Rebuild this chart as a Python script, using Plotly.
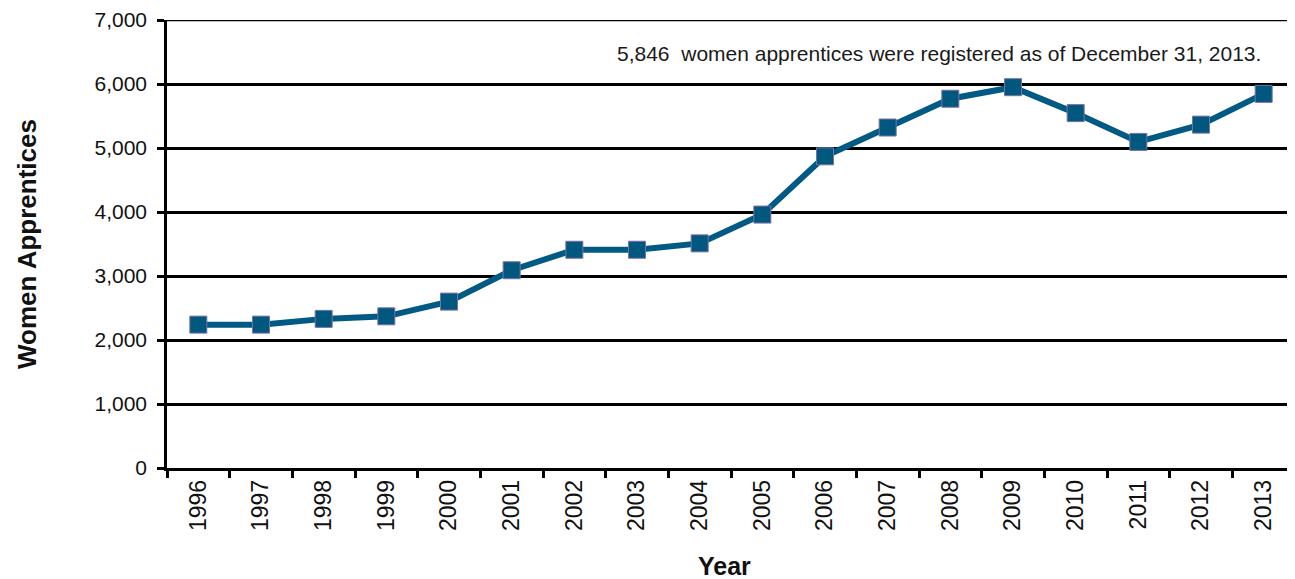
import plotly.graph_objects as go

years = [str(y) for y in range(1996, 2014)]
women = [2240, 2240, 2330, 2370, 2600, 3090, 3410, 3410, 3510, 3960,
         4870, 5320, 5770, 5950, 5545, 5095, 5365, 5846]
y_ticks = [0, 1000, 2000, 3000, 4000, 5000, 6000, 7000]
y_tick_text = ["{:,}".format(v) for v in y_ticks]
note = "5,846  women apprentices were registered as of December 31, 2013."
FONT = "Liberation Sans, Arial, sans-serif"

fig = go.Figure()
fig.add_trace(go.Scatter(
    x=years, y=women, mode="lines+markers",
    line=dict(color="#005A84", width=6),
    marker=dict(symbol="square", size=17, color="#00587F",
                line=dict(color="#7A6FA8", width=1)),
    showlegend=False, cliponaxis=False,
))

# top gridline at the range maximum
fig.add_shape(type="line", xref="paper", yref="y", x0=0, x1=1,
              y0=y_ticks[-1], y1=y_ticks[-1],
              line=dict(color="black", width=2.5), layer="below")

fig.add_annotation(
    x=1, xref="paper", xanchor="right", xshift=-32,
    y=6470, yref="y", yanchor="middle",
    text=note, showarrow=False,
    font=dict(family=FONT, size=21, color="#1a1a1a"),
)
fig.add_annotation(
    x=0.5, xref="paper", xanchor="center", xshift=-7,
    y=0, yref="paper", yanchor="middle", yshift=-98,
    text="<b>Year</b>", showarrow=False,
    font=dict(family=FONT, size=25, color="#111111"),
)
fig.add_annotation(
    x=0, xref="paper", xanchor="center", xshift=-140,
    y=0.5, yref="paper", yanchor="middle",
    text="<b>Women Apprentices</b>", showarrow=False, textangle=-90,
    font=dict(family=FONT, size=26, color="#111111"),
)

fig.update_layout(
    width=1287, height=571,
    margin=dict(l=159, r=0, t=12, b=111),
    paper_bgcolor="white", plot_bgcolor="white",
    font=dict(family=FONT, color="#111111"),
)
fig.update_xaxes(
    type="category", tickson="boundaries", automargin=False,
    range=[-0.5, len(years) - 0.5],
    ticks="outside", ticklen=7, tickwidth=2.5, tickcolor="black",
    showline=True, linecolor="black", linewidth=2.5,
    tickangle=-90, tickfont=dict(family=FONT, size=23),
    showgrid=False, ticklabeloverflow="allow",
)
fig.update_yaxes(
    range=[0, 7000], tickvals=y_ticks, ticktext=y_tick_text, automargin=False,
    ticks="outside", ticklen=7, tickwidth=2.5, tickcolor="black",
    showline=True, linecolor="black", linewidth=2.5,
    showgrid=True, gridcolor="black", gridwidth=2.5,
    zeroline=False, tickfont=dict(family=FONT, size=21),
    ticklabelstandoff=6, ticklabeloverflow="allow",
)

fig.write_html("out.html")
